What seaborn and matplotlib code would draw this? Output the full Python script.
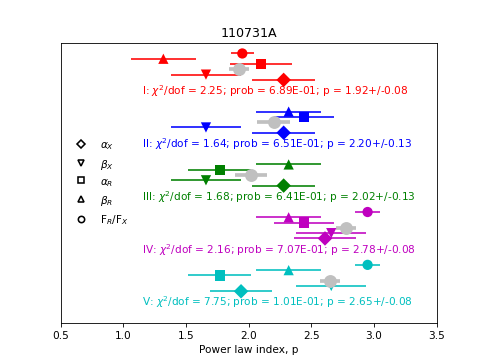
import numpy as np
import pandas as pd
import matplotlib
matplotlib.use("Agg")
import matplotlib.pyplot as plt
from matplotlib.lines import Line2D
import seaborn as sns

# ---- data ----
groups = ["I", "II", "III", "IV", "V"]
group_colors = ["#ff0000", "#0000ff", "#008000", "#bf00bf", "#00bfbf"]
alpha_X = [2.28, 2.28, 2.28, 2.61, 1.94]
alpha_X_err = [0.25, 0.25, 0.25, 0.25, 0.25]
beta_X = [1.66, 1.66, 1.66, 2.66, 2.66]
beta_X_err = [0.28, 0.28, 0.28, 0.28, 0.28]
alpha_R = [2.10, 2.44, 1.77, 2.44, 1.77]
alpha_R_err = [0.25, 0.24, 0.25, 0.24, 0.25]
beta_R = [1.32, 2.32, 2.32, 2.32, 2.32]
beta_R_err = [0.26, 0.26, 0.26, 0.26, 0.26]
FR_FX = [1.95, np.nan, np.nan, 2.95, 2.95]
FR_FX_err = [0.09, np.nan, np.nan, 0.10, 0.10]
p_best = [1.92, 2.20, 2.02, 2.78, 2.65]
p_err = [0.08, 0.13, 0.13, 0.08, 0.08]
chi2_dof = ["2.25", "1.64", "1.68", "2.16", "7.75"]
prob = ["6.89E-01", "6.51E-01", "6.41E-01", "7.07E-01", "1.01E-01"]

param_names = ["alpha_X", "beta_X", "alpha_R", "beta_R", "FR_FX"]
param_labels = [r"$\alpha_X$", r"$\beta_X$", r"$\alpha_R$", r"$\beta_R$", r"F$_R$/F$_X$"]
param_markers = ["D", "v", "s", "^", "o"]
param_offsets = [0.0, -0.1, -0.3, -0.4, -0.5]
p_offset = -0.2

values = {"alpha_X": (alpha_X, alpha_X_err), "beta_X": (beta_X, beta_X_err),
          "alpha_R": (alpha_R, alpha_R_err), "beta_R": (beta_R, beta_R_err),
          "FR_FX": (FR_FX, FR_FX_err)}

rows = []
for gi, g in enumerate(groups):
    for pn, off in zip(param_names, param_offsets):
        v, e = values[pn]
        rows.append(dict(group=g, param=pn, value=v[gi], err=e[gi], y=gi + off,
                         color=group_colors[gi]))
df = pd.DataFrame(rows).dropna()
pdf = pd.DataFrame(dict(group=groups, value=p_best, err=p_err,
                        y=np.arange(len(groups)) + p_offset))

# ---- plot ----
fig, ax = plt.subplots(figsize=(6.4, 4.8), dpi=485 / 6.4)

for _, r in df.iterrows():
    ax.errorbar(r["value"], r["y"], xerr=r["err"], fmt="none", ecolor=r["color"],
                elinewidth=1.5, capsize=0, zorder=2)
ax.errorbar(pdf["value"], pdf["y"], xerr=pdf["err"], fmt="none", ecolor="silver",
            elinewidth=3.5, capsize=0, zorder=2)

sns.scatterplot(data=df, x="value", y="y", hue="group", style="param",
                palette=dict(zip(groups, group_colors)),
                markers=dict(zip(param_names, param_markers)),
                s=95, linewidth=0, legend=False, ax=ax, zorder=3)
sns.scatterplot(data=pdf, x="value", y="y", color="silver", marker="o",
                s=150, linewidth=0, legend=False, ax=ax, zorder=3)

for gi, g in enumerate(groups):
    ax.text(1.15, gi + 0.2,
            f"{g}: $\\chi^2$/dof = {chi2_dof[gi]}; prob = {prob[gi]}; "
            f"p = {p_best[gi]:.2f}+/-{p_err[gi]:.2f}",
            color=group_colors[gi], va="center", ha="left", fontsize=10)

handles = [Line2D([], [], marker=m, linestyle="none", markerfacecolor="none",
                  markeredgecolor="k", markeredgewidth=1.5, markersize=6, label=l)
           for m, l in zip(param_markers, param_labels)]
ax.legend(handles=handles, loc="center left", frameon=False)

ax.set_xlim(0.5, 3.5)
ax.set_xticks(np.arange(0.5, 3.51, 0.5))
ax.set_ylim(4.6, -0.7)
ax.set_yticks([])
ax.set_ylabel("")
ax.set_xlabel("Power law index, p")
ax.set_title("110731A")

fig.savefig("out.png", dpi=485 / 6.4)
